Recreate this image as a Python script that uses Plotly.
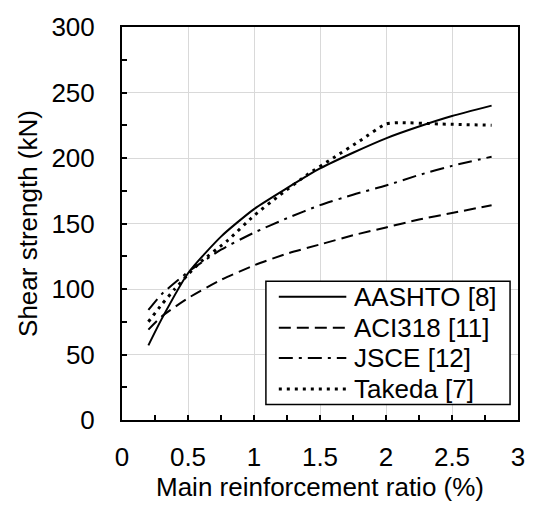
import plotly.graph_objects as go

# ---- data ----
aashto_x = [0.2, 0.3, 0.5, 0.75, 1.0, 1.25, 1.5, 1.75, 2.0, 2.25, 2.5, 2.8]
aashto_y = [57, 77, 112, 140, 161, 177, 192, 204, 215, 224, 232, 240]

aci_x = [0.2, 0.3, 0.5, 0.75, 1.0, 1.25, 1.5, 1.75, 2.0, 2.25, 2.5, 2.8]
aci_y = [69, 79, 93, 107, 118, 127, 134, 141, 147, 153, 158, 164]

jsce_x = [0.2, 0.3, 0.5, 0.75, 1.0, 1.25, 1.5, 1.75, 2.0, 2.25, 2.5, 2.8]
jsce_y = [84, 96, 113, 130, 143, 154, 164, 172, 179, 187, 194, 201]

takeda_x = [0.2, 0.3, 0.4, 0.5, 0.6, 0.8, 1.0, 1.2, 1.4, 1.6, 1.8, 2.0, 2.1, 2.4, 2.8]
takeda_y = [75, 88, 100, 111, 121, 137, 156, 172, 187, 200, 213, 226, 227, 226, 225]

series_names = ["AASHTO [8]", "ACI318 [11]", "JSCE [12]", "Takeda [7]"]

x_ticks = [0, 0.5, 1, 1.5, 2, 2.5, 3]
x_tick_labels = ["0", "0.5", "1", "1.5", "2", "2.5", "3"]
y_ticks = [0, 50, 100, 150, 200, 250, 300]

x_title = "Main reinforcement ratio (%)"
y_title = "Shear strength (kN)"

# ---- styles ----
FONT = "Liberation Sans, Arial, sans-serif"
FS = 26
styles = [
    dict(width=2, dash="solid"),
    dict(width=2, dash="12px,6px"),
    dict(width=2, dash="14px,6px,3px,6px"),
    dict(width=3, dash="3px,5px"),
]

fig = go.Figure()
for (xs, ys), name, st in zip(
    [(aashto_x, aashto_y), (aci_x, aci_y), (jsce_x, jsce_y), (takeda_x, takeda_y)],
    series_names, styles):
    fig.add_trace(go.Scatter(x=xs, y=ys, mode="lines", name=name,
                             line=dict(color="black", width=st["width"],
                                       dash=st["dash"], shape="spline", smoothing=0.6),
                             showlegend=False))

W, H = 537, 506
L, R, T, B = 122, 16, 21, 80
PW, PH = W - L - R, H - T - B


def px(xp):
    return (xp - L) / PW


def py(yp):
    return (H - B - yp) / PH


# custom legend (long line samples like the reference)
shapes = [dict(type="rect", xref="paper", yref="paper",
               x0=px(267), x1=px(513), y0=py(410), y1=py(283),
               line=dict(color="black", width=1.5), fillcolor="white", layer="above")]
annotations = []
rows = [299, 331, 362, 394]
for name, st, r in zip(series_names, styles, rows):
    shapes.append(dict(type="line", xref="paper", yref="paper",
                       x0=px(280), x1=px(348), y0=py(r), y1=py(r), layer="above",
                       line=dict(color="black", width=st["width"], dash=st["dash"])))
    annotations.append(dict(xref="paper", yref="paper", x=px(354), y=py(r),
                            xanchor="left", yanchor="middle", showarrow=False,
                            text=name, font=dict(family=FONT, size=FS, color="black")))

axis_common = dict(showline=True, linecolor="black", linewidth=2, mirror=True,
                   showgrid=True, gridcolor="#d9d9d9", gridwidth=1.2, zeroline=False,
                   ticks="inside", ticklen=5, tickwidth=1.5, tickcolor="black",
                   tickfont=dict(family=FONT, size=FS, color="black"))

fig.update_layout(
    width=W, height=H,
    margin=dict(l=L, r=R, t=T, b=B),
    paper_bgcolor="white", plot_bgcolor="white",
    font=dict(family=FONT, color="black"),
    shapes=shapes, annotations=annotations,
    xaxis=dict(range=[0, 3], tickvals=x_ticks, ticktext=x_tick_labels,
               minor=dict(ticks="inside", dtick=0.25, ticklen=5, tickwidth=1.5,
                          tickcolor="black", showgrid=False),
               ticklabelstandoff=13,
               title=dict(text=x_title, font=dict(family=FONT, size=FS, color="black"),
                          standoff=4),
               **axis_common),
    yaxis=dict(range=[0, 300], tickvals=y_ticks,
               minor=dict(ticks="inside", dtick=25, ticklen=5, tickwidth=1.5,
                          tickcolor="black", showgrid=False),
               ticklabelstandoff=20,
               title=dict(text=y_title, font=dict(family=FONT, size=FS, color="black"),
                          standoff=6),
               **axis_common),
)

fig.write_html("out.html")
